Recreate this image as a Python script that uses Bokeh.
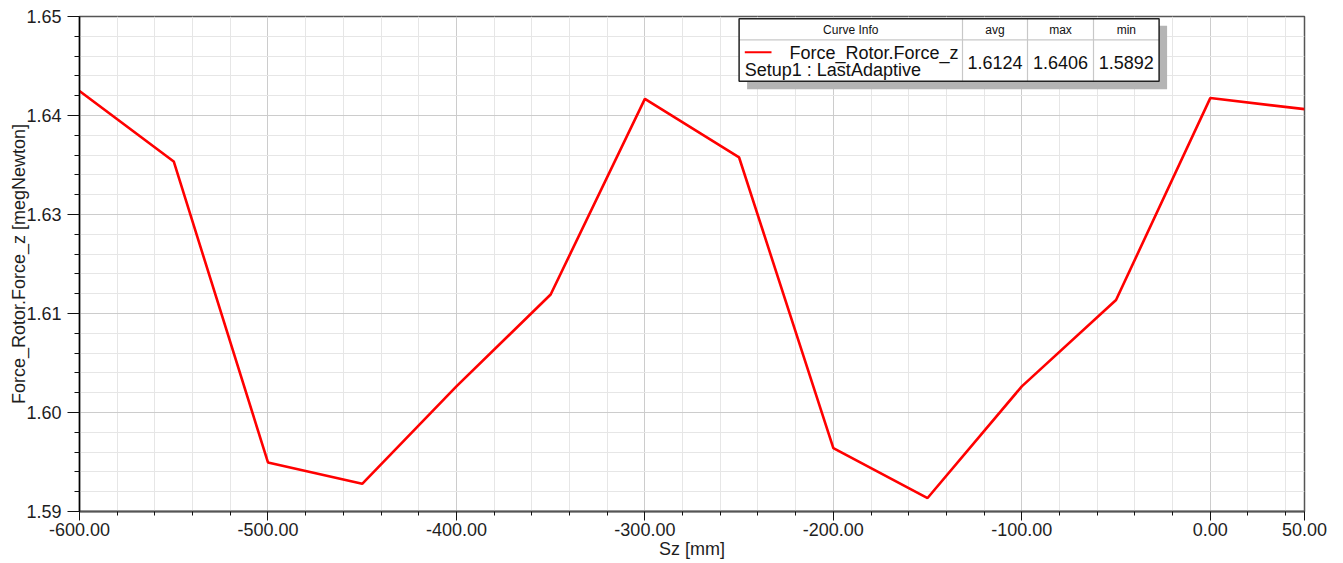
from bokeh.plotting import figure
from bokeh.models import FixedTicker, NumeralTickFormatter, Range1d
from bokeh.core.properties import value
from bokeh.embed import file_html
from bokeh.resources import INLINE

# ---- data ----
sz_mm = [-600, -550, -500, -450, -400, -350, -300, -250, -200, -150, -100, -50, 0, 50]
force_z = [1.6406, 1.6317, 1.5937, 1.5910, 1.6033, 1.6149, 1.6396,
           1.6322, 1.5955, 1.5892, 1.6033, 1.6142, 1.6397, 1.6383]

x_ticks = [-600, -500, -400, -300, -200, -100, 0, 50]
y_ticks = [1.5875, 1.6, 1.6125, 1.625, 1.6375, 1.65]
y_tick_labels = ["1.59", "1.60", "1.61", "1.63", "1.64", "1.65"]

x_title = "Sz [mm]"
y_title = "Force_Rotor.Force_z [megNewton]"
curve_name = "Force_Rotor.Force_z"
curve_setup = "Setup1 : LastAdaptive"
header_title = "Curve Info"
stat_names = ["avg", "max", "min"]
stat_values = ["1.6124", "1.6406", "1.5892"]

# ---- layout ----
FW, FH = 1225, 495
X0, X1 = -600, 50
Y0, Y1 = y_ticks[0], y_ticks[-1]
FONT = value("Liberation Sans")

p = figure(width=1343, height=563, output_backend="svg", toolbar_location=None,
           x_range=Range1d(X0, X1), y_range=Range1d(Y0, Y1),
           min_border_left=79, min_border_right=39, min_border_top=16, min_border_bottom=52,
           background_fill_color="white", border_fill_color="white")
p.outline_line_color = "#555555"
p.outline_line_width = 1.5

x_minor = [X0 + 20 * i for i in range(33) if (X0 + 20 * i) not in x_ticks]
step_y = (y_ticks[1] - y_ticks[0]) / 5
y_minor = [Y0 + step_y * i for i in range(26) if i % 5]

xt = FixedTicker(ticks=x_ticks, minor_ticks=x_minor)
yt = FixedTicker(ticks=y_ticks, minor_ticks=y_minor)
p.xaxis.ticker = xt
p.yaxis.ticker = yt
p.xgrid.ticker = xt
p.ygrid.ticker = yt
p.xaxis.formatter = NumeralTickFormatter(format="0.00")
p.yaxis.major_label_overrides = {t: l for t, l in zip(y_ticks, y_tick_labels)}

for g in (p.xgrid, p.ygrid):
    g.grid_line_color = "#cccccc"
    g.grid_line_width = 1
    g.minor_grid_line_color = "#e6e6e6"
    g.minor_grid_line_width = 1

for ax in (p.xaxis, p.yaxis):
    ax.major_label_text_font = "Liberation Sans"
    ax.major_label_text_font_size = "18px"
    ax.major_label_text_color = "#1e1e1e"
    ax.axis_label_text_font = "Liberation Sans"
    ax.axis_label_text_font_size = "18px"
    ax.axis_label_text_font_style = "normal"
    ax.axis_label_text_color = "#1e1e1e"
    ax.major_tick_line_color = "#111111"
    ax.minor_tick_line_color = "#111111"
    ax.major_tick_in = 0
    ax.minor_tick_in = 0

p.xaxis.axis_label = x_title
p.yaxis.axis_label = y_title
p.xaxis.axis_line_color = "#555555"
p.xaxis.axis_line_width = 2
p.yaxis.axis_line_color = "black"
p.yaxis.axis_line_width = 1.5
p.xaxis.major_tick_out = 9
p.xaxis.minor_tick_out = 4
p.xaxis.major_label_standoff = 2
p.xaxis.axis_label_standoff = 0
p.yaxis.major_tick_out = 12
p.yaxis.minor_tick_out = 5
p.yaxis.major_label_standoff = 6
p.yaxis.axis_label_standoff = -6

# ---- curve ----
p.line(sz_mm, force_z, line_color="#ff0000", line_width=2.6)

# ---- curve info table (pixel offsets inside the frame -> data units) ----
def fx(px):
    return X0 + px * (X1 - X0) / FW

def fy(py):
    return Y1 - py * (Y1 - Y0) / FH

L, R, T, B = 659.6, 1079.6, 2.3, 64.7
HB = 23.3
cols = [883.0, 948.0, 1014.0]
DY = -5.0  # text vertical adjustment

p.quad(left=[fx(L + 8)], right=[fx(R + 8)], top=[fy(T + 7)], bottom=[fy(B + 8)],
       fill_color="#b4b4b4", line_color=None)
p.quad(left=[fx(L)], right=[fx(R)], top=[fy(T)], bottom=[fy(B)],
       fill_color="white", line_color=None)
p.segment(x0=[fx(c) for c in cols] + [fx(L)], x1=[fx(c) for c in cols] + [fx(R)],
          y0=[fy(T)] * 3 + [fy(HB)], y1=[fy(B)] * 3 + [fy(HB)],
          line_color="#c8c8c8", line_width=1.2)
p.quad(left=[fx(L)], right=[fx(R)], top=[fy(T)], bottom=[fy(B)],
       fill_color=None, line_color="#222222", line_width=1.5)

p.segment(x0=[fx(665.3)], x1=[fx(692.0)], y0=[fy(35.7)], y1=[fy(35.7)],
          line_color="#ff0000", line_width=2)

col_edges = [L] + cols + [R]
head_x = [(col_edges[i] + col_edges[i + 1]) / 2 for i in range(4)]
p.text(x=[fx(v) for v in head_x], y=[fy(18.0 + DY)] * 4, text=[header_title] + stat_names,
       text_font=FONT, text_font_size=value("12px"), text_align="center",
       text_baseline="alphabetic", text_color="#111111")
p.text(x=[fx(879.0)], y=[fy(41.7 + DY)], text=[curve_name], text_font=FONT,
       text_font_size=value("18px"), text_align="right", text_baseline="alphabetic",
       text_color="#111111")
p.text(x=[fx(665.3)], y=[fy(58.5 + DY)], text=[curve_setup], text_font=FONT,
       text_font_size=value("18px"), text_align="left", text_baseline="alphabetic",
       text_color="#111111")
p.text(x=[fx(v) for v in head_x[1:]], y=[fy(50.5 + DY)] * 3, text=stat_values, text_font=FONT,
       text_font_size=value("18px"), text_align="center", text_baseline="alphabetic",
       text_color="#111111")

open("out.html", "w").write(file_html(p, INLINE))
